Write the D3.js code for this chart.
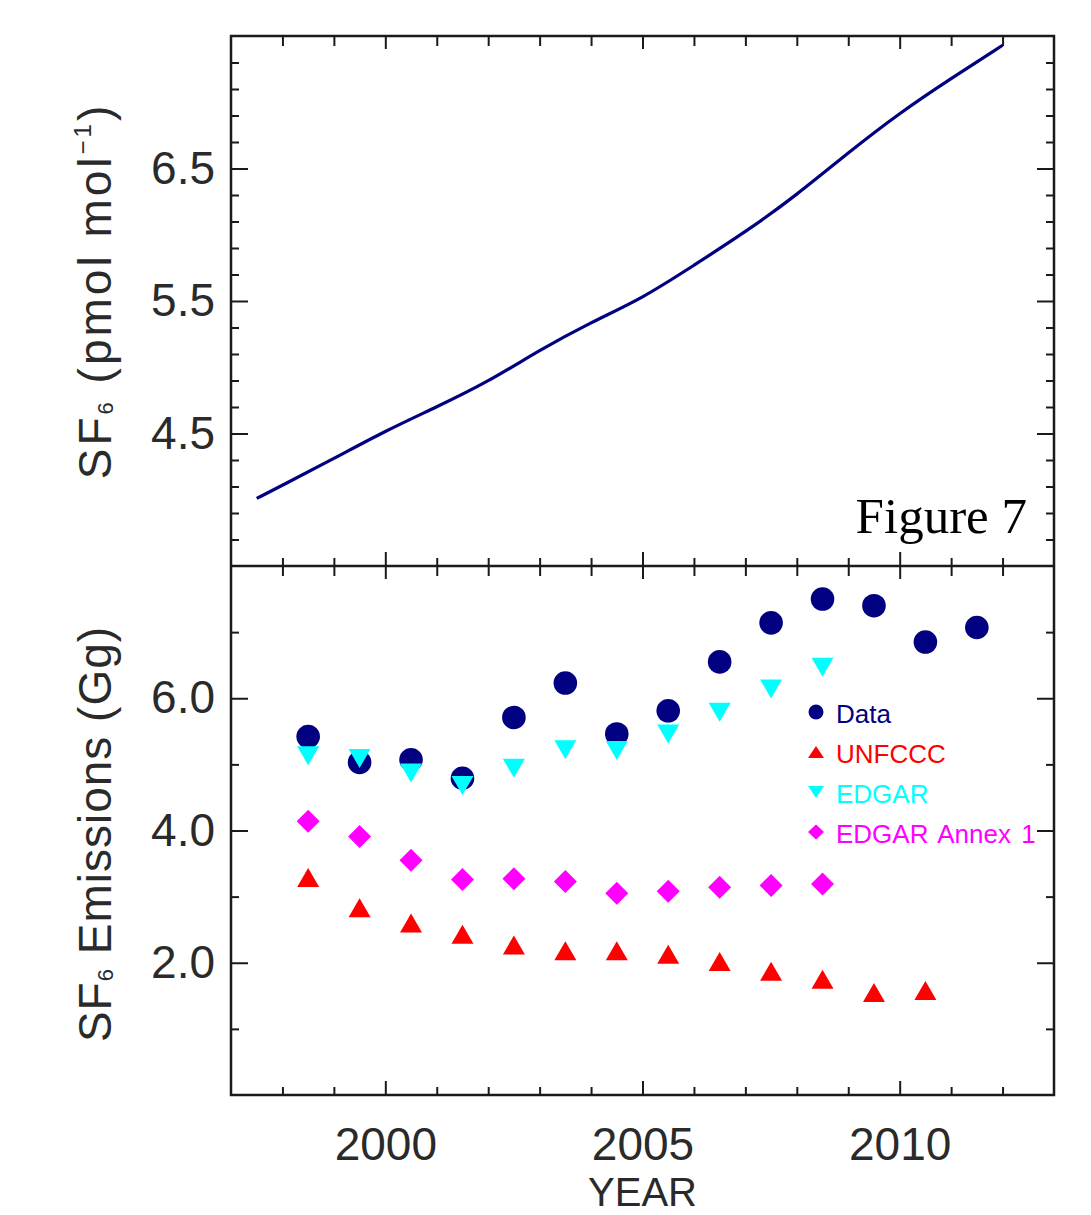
<!DOCTYPE html>
<html>
<head>
<meta charset="utf-8">
<script src="https://cdn.jsdelivr.net/npm/d3@7"></script>
<style>
  html, body { margin: 0; padding: 0; background: #fff; }
  svg { display: block; }
</style>
</head>
<body>
<svg id="chart" width="1091" height="1215"></svg>
<script>
// SF6 mole fraction (top panel), yearly read-off of the curve
const mixYears = [1997.5, 1998, 1999, 2000, 2001, 2002, 2003, 2004, 2005, 2006, 2007, 2008, 2009, 2010, 2011, 2012];
const mixValues = [4.01, 4.11, 4.31, 4.52, 4.70, 4.89, 5.13, 5.34, 5.52, 5.77, 6.02, 6.30, 6.62, 6.92, 7.18, 7.43];

// emissions (bottom panel), plotted at mid-year
const emYears = [1998.5, 1999.5, 2000.5, 2001.5, 2002.5, 2003.5, 2004.5, 2005.5, 2006.5, 2007.5, 2008.5, 2009.5, 2010.5, 2011.5];
const dataEm = [5.42, 5.03, 5.07, 4.79, 5.71, 6.23, 5.46, 5.81, 6.55, 7.14, 7.50, 7.40, 6.85, 7.07];
const unfcccEm = [3.29, 2.83, 2.60, 2.43, 2.27, 2.18, 2.18, 2.13, 2.02, 1.87, 1.75, 1.55, 1.58];
const edgarEm = [5.13, 5.09, 4.87, 4.68, 4.94, 5.22, 5.21, 5.46, 5.79, 6.14, 6.47];
const annexEm = [4.14, 3.91, 3.55, 3.26, 3.27, 3.23, 3.05, 3.08, 3.14, 3.17, 3.19];

const xMajor = [2000, 2005, 2010];
const topLabels = [4.5, 5.5, 6.5];
const botLabels = [2.0, 4.0, 6.0];
const legendNames = ['Data', 'UNFCCC', 'EDGAR', 'EDGAR Annex 1'];

const NAVY = '#000080', RED = '#ff0000', CYAN = '#00ffff', MAGENTA = '#ff00ff';
const INK = '#1a1a1a';
const TEXT = '#2a2a2a';
const FONT = '"Liberation Sans", Arial, sans-serif';

const L = 231, R = 1054, T = 36, MID = 566, B = 1095;

const svg = d3.select('#chart');

const x = d3.scaleLinear().domain([1997, 2013]).range([L, R]);
const yTop = d3.scaleLinear().domain([3.5, 7.5]).range([MID, T]);
const yBot = d3.scaleLinear().domain([0, 8]).range([B, MID]);

// marker shapes centred on their bounding box
function shape(type, w, h) {
    const a = w / 2, b = h / 2;
    if (type === 'up') return `M0,${-b}L${a},${b}L${-a},${b}Z`;
    if (type === 'down') return `M0,${b}L${a},${-b}L${-a},${-b}Z`;
    if (type === 'diamond') return `M0,${-b}L${a},0L0,${b}L${-a},0Z`;
    return '';
}

function styleAxis(g) {
    g.select('.domain').remove();
    g.selectAll('.tick line').attr('stroke', INK).attr('stroke-width', 2);
}

// inward ticks for one panel
function panelTicks(y, yMinor, yMajor, top, bottom) {
    const years = d3.range(1998, 2013);
    const minorX = years.filter(d => !xMajor.includes(d));

    svg.append('g').attr('transform', `translate(0,${bottom})`)
        .call(d3.axisBottom(x).tickValues(minorX).tickSize(-8).tickFormat(''))
        .call(styleAxis);
    svg.append('g').attr('transform', `translate(0,${bottom})`)
        .call(d3.axisBottom(x).tickValues(xMajor).tickSize(-14).tickFormat(''))
        .call(styleAxis);
    svg.append('g').attr('transform', `translate(0,${top})`)
        .call(d3.axisTop(x).tickValues(minorX).tickSize(-10).tickFormat(''))
        .call(styleAxis);
    svg.append('g').attr('transform', `translate(0,${top})`)
        .call(d3.axisTop(x).tickValues(xMajor).tickSize(-13).tickFormat(''))
        .call(styleAxis);

    [[d3.axisLeft, L], [d3.axisRight, R]].forEach(([ax, pos]) => {
        svg.append('g').attr('transform', `translate(${pos},0)`)
            .call(ax(y).tickValues(yMinor).tickSize(-8).tickFormat(''))
            .call(styleAxis);
        svg.append('g').attr('transform', `translate(${pos},0)`)
            .call(ax(y).tickValues(yMajor).tickSize(-17).tickFormat(''))
            .call(styleAxis);
    });
}

const topMinor = d3.range(3.7, 7.45, 0.2).map(d => +d.toFixed(1)).filter(d => Math.abs((d - 0.5) % 1) > 0.01);
panelTicks(yTop, topMinor, [4.5, 5.5, 6.5], T, MID);
panelTicks(yBot, [1, 3, 5, 7], [2, 4, 6], MID, B);

// tick labels
svg.append('g').attr('transform', `translate(${L},0)`)
    .call(d3.axisLeft(yTop).tickValues(topLabels).tickSize(0).tickPadding(16).tickFormat(d3.format('.1f')))
    .call(g => g.select('.domain').remove());
svg.append('g').attr('transform', `translate(${L},0)`)
    .call(d3.axisLeft(yBot).tickValues(botLabels).tickSize(0).tickPadding(16).tickFormat(d3.format('.1f')))
    .call(g => g.select('.domain').remove());
svg.append('g').attr('transform', `translate(0,${B})`)
    .call(d3.axisBottom(x).tickValues(xMajor).tickSize(0).tickPadding(32).tickFormat(d3.format('d')))
    .call(g => g.select('.domain').remove());

svg.selectAll('.tick text')
    .attr('fill', TEXT)
    .style('font-family', FONT)
    .style('font-size', '46px');

// frames
svg.append('rect').attr('x', L).attr('y', T).attr('width', R - L).attr('height', B - T)
    .attr('fill', 'none').attr('stroke', INK).attr('stroke-width', 2.5);
svg.append('line').attr('x1', L).attr('x2', R).attr('y1', MID).attr('y2', MID)
    .attr('stroke', INK).attr('stroke-width', 2.5);

// top panel curve
const mix = mixYears.map((d, i) => ({ year: d, value: mixValues[i] }));
svg.append('path')
    .datum(mix)
    .attr('fill', 'none')
    .attr('stroke', NAVY)
    .attr('stroke-width', 3.2)
    .attr('d', d3.line().x(d => x(d.year)).y(d => yTop(d.value)).curve(d3.curveBasis));

svg.append('text')
    .attr('x', 1027).attr('y', 533)
    .attr('text-anchor', 'end')
    .attr('fill', '#000')
    .style('font-family', '"Liberation Serif", "Times New Roman", serif')
    .style('font-size', '51px')
    .text('Figure 7');

// bottom panel markers
const series = [
    { values: dataEm, color: NAVY, kind: 'circle' },
    { values: unfcccEm, color: RED, kind: 'up' },
    { values: edgarEm, color: CYAN, kind: 'down' },
    { values: annexEm, color: MAGENTA, kind: 'diamond' }
];

series.forEach(s => {
    const pts = s.values.map((v, i) => ({ year: emYears[i], value: v }));
    if (s.kind === 'circle') {
        svg.append('g').selectAll('circle').data(pts).join('circle')
            .attr('cx', d => x(d.year)).attr('cy', d => yBot(d.value))
            .attr('r', 11.8).attr('fill', s.color);
    } else {
        const w = s.kind === 'diamond' ? 23 : 22;
        const h = s.kind === 'diamond' ? 23 : 19;
        svg.append('g').selectAll('path').data(pts).join('path')
            .attr('transform', d => `translate(${x(d.year)},${yBot(d.value)})`)
            .attr('d', shape(s.kind, w, h))
            .attr('fill', s.color);
    }
});

// legend
const legend = svg.append('g').attr('transform', 'translate(816,712)');
series.forEach((s, i) => {
    const row = legend.append('g').attr('transform', `translate(0,${i * 40})`);
    if (s.kind === 'circle') {
        row.append('circle').attr('r', 7.5).attr('fill', s.color);
    } else {
        row.append('path').attr('d', shape(s.kind, 16, s.kind === 'diamond' ? 15 : 12)).attr('fill', s.color);
    }
    row.append('text')
        .attr('x', 20).attr('y', 11)
        .attr('fill', s.color)
        .style('font-family', FONT)
        .style('font-size', '26px')
        .style('word-spacing', '3px')
        .text(legendNames[i]);
});

// axis titles
function yTitle(cx, cy, spacing, parts) {
    const t = svg.append('text')
        .attr('transform', `translate(${cx},${cy}) rotate(-90)`)
        .attr('text-anchor', 'middle')
        .attr('fill', TEXT)
        .style('font-family', FONT)
        .style('font-size', '46px')
        .style('letter-spacing', spacing);
    parts.forEach(p => {
        t.append('tspan')
            .attr('dy', p.dy || 0)
            .style('font-size', p.size || null)
            .text(p.text);
    });
}

yTitle(111, 291, '3px', [
    { text: 'SF' },
    { text: '6', size: '22px', dy: 2 },
    { text: ' (pmol  mol', dy: -2 },
    { text: '−1', size: '24px', dy: -20 },
    { text: ')', dy: 20 }
]);
yTitle(111, 834, '1px', [
    { text: 'SF' },
    { text: '6', size: '22px', dy: 2 },
    { text: ' Emissions (Gg)', dy: -2 }
]);

svg.append('text')
    .attr('x', x(2005)).attr('y', 1206)
    .attr('text-anchor', 'middle')
    .attr('fill', TEXT)
    .style('font-family', FONT)
    .style('font-size', '40px')
    .text('YEAR');
</script>
</body>
</html>
